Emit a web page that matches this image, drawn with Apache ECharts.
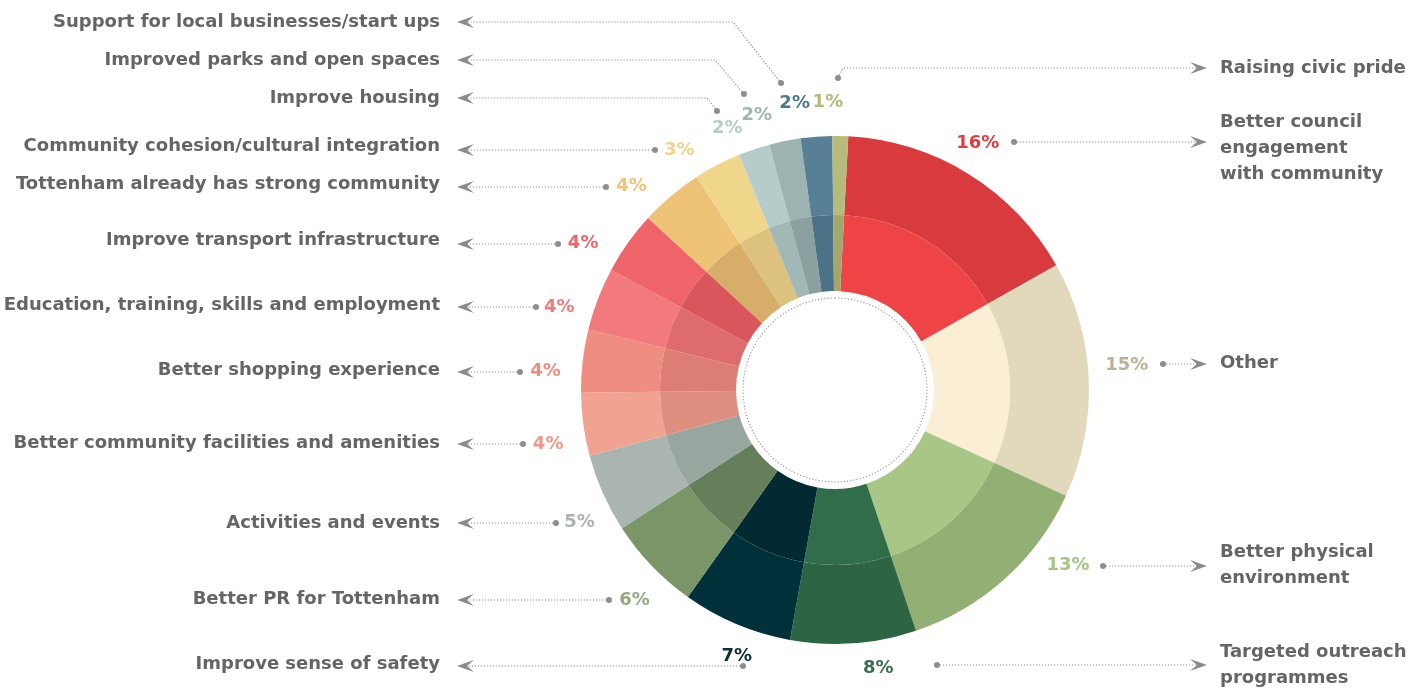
<!DOCTYPE html>
<html>
<head>
<meta charset="utf-8">
<script src="https://cdn.jsdelivr.net/npm/echarts@6/dist/echarts.min.js"></script>
<style>
html,body{margin:0;padding:0;background:#ffffff;}
#main{width:1419px;height:693px;}
</style>
</head>
<body>
<div id="main"></div>
<script>
// ---------------- DATA ----------------
const categories = [
  'Better council\nengagement\nwith community',
  'Other',
  'Better physical\nenvironment',
  'Targeted outreach\nprogrammes',
  'Improve sense of safety',
  'Better PR for Tottenham',
  'Activities and events',
  'Better community facilities and amenities',
  'Better shopping experience',
  'Education, training, skills and employment',
  'Improve transport infrastructure',
  'Tottenham already has strong community',
  'Community cohesion/cultural integration',
  'Improve housing',
  'Improved parks and open spaces',
  'Support for local businesses/start ups',
  'Raising civic pride'
];
const shares = [16, 15, 13, 8, 7, 6, 5, 4, 4, 4, 4, 4, 3, 2, 2, 2, 1];

// ---------------- STYLE ----------------
const outerColors = ['#d93a3d','#e2d9bd','#92b073','#2c6444','#003039','#7a9668','#a9b5ae',
  '#f2a291','#f08d81','#f27a7c','#ee6469','#eec277','#efd68b','#b4cdcb','#9db3b2','#577f96','#b6bb7b'];
const innerColors = ['#ef4446','#faefd5','#a8c686','#326d4b','#022a33','#657f5b','#97a69e',
  '#de8f80','#dc7e74','#de6b6e','#d9575c','#d6ae6a','#dcc27d','#a1b8b6','#8ba19f','#4c7287','#a2a76b'];
const pctColors = ['#e03b3e','#bcb196','#a5c47f','#3a6e4d','#0a3038','#93ab82','#a9b5ae',
  '#f09888','#ef8c80','#ef7c7b','#ee6669','#eec37a','#f1d48a','#b4cdcb','#9fb4b3','#4f7890','#b5b979'];

// ---------------- LAYOUT (annotation placement) ----------------
const CX = 835, CY = 390;
const PCT_R = 290;
const LEFT_X = 440, RIGHT_X = 1220;
// side, leader dot, optional elbow, name y, percentage nudge
const leaders = [
  {side:'R', dot:[1014,142], via:null,       ny:148, nudge:[3,7]},
  {side:'R', dot:[1163,364], via:null,       ny:363, nudge:[3,3]},
  {side:'R', dot:[1103,566], via:null,       ny:565, nudge:[28,-30]},
  {side:'R', dot:[937,665],  via:null,       ny:665, nudge:[7,-9]},
  {side:'L', dot:[743,666],  via:null,       ny:664, nudge:[0,-7]},
  {side:'L', dot:[609,600],  via:null,       ny:599, nudge:[-2,-1]},
  {side:'L', dot:[556,523],  via:null,       ny:523, nudge:[3,1]},
  {side:'L', dot:[523,444],  via:null,       ny:443, nudge:[-2,0]},
  {side:'L', dot:[520,372],  via:null,       ny:370, nudge:[0,0]},
  {side:'L', dot:[536,307],  via:null,       ny:305, nudge:[0,7]},
  {side:'L', dot:[558,244],  via:null,       ny:240, nudge:[-7,9]},
  {side:'L', dot:[606,187],  via:null,       ny:184, nudge:[-5,8]},
  {side:'L', dot:[655,150],  via:null,       ny:146, nudge:[-8,10]},
  {side:'L', dot:[717,111],  via:[707,98],   ny:98,  nudge:[-1,8]},
  {side:'L', dot:[744,94],   via:[715,60],   ny:60,  nudge:[-6,6]},
  {side:'L', dot:[781,83],   via:[733,22],   ny:22,  nudge:[-4,1]},
  {side:'R', dot:[838,78],   via:[843,68],   ny:68,  nudge:[2,2]}
];

const total = shares.reduce((a, b) => a + b, 0);
function midAngle(i) {
  let before = 0;
  for (let k = 0; k < i; k++) before += shares[k];
  return (before + shares[i] / 2) / total * 2 * Math.PI;
}

const LINE_COLOR = '#8e8e8e';
const NAME_FONT = 'bold 18px "DejaVu Sans"';
const PCT_FONT = 'bold 18px "DejaVu Sans"';

function renderAnnotation(params, api) {
  const i = params.dataIndex;
  const L = leaders[i];
  const a = midAngle(i);
  const px = CX + PCT_R * Math.sin(a) + L.nudge[0];
  const py = CY - PCT_R * Math.cos(a) + L.nudge[1];
  const lineY = L.via ? L.via[1] : L.dot[1];
  const pts = [L.dot];
  if (L.via) pts.push(L.via);
  let arrow, endX;
  if (L.side === 'L') {
    endX = 467;
    arrow = [[457, lineY], [474, lineY - 6], [467, lineY], [474, lineY + 6]];
  } else {
    endX = 1197;
    arrow = [[1207, lineY], [1190, lineY - 6], [1197, lineY], [1190, lineY + 6]];
  }
  pts.push([endX, lineY]);
  return {
    type: 'group',
    children: [
      {type: 'polyline', shape: {points: pts},
       style: {stroke: LINE_COLOR, lineWidth: 1.2, lineDash: [1.2, 1.8], fill: null}},
      {type: 'circle', shape: {cx: L.dot[0], cy: L.dot[1], r: 3},
       style: {fill: LINE_COLOR}},
      {type: 'polygon', shape: {points: arrow}, style: {fill: '#8a8a8a'}},
      {type: 'text',
       style: {text: categories[i], x: L.side === 'L' ? LEFT_X : RIGHT_X, y: L.ny,
               align: L.side === 'L' ? 'right' : 'left', verticalAlign: 'middle',
               fill: '#656565', font: NAME_FONT, lineHeight: 26}},
      {type: 'text',
       style: {text: shares[i] + '%', x: px, y: py, align: 'center', verticalAlign: 'middle',
               fill: pctColors[i], font: PCT_FONT}}
    ]
  };
}

const chart = echarts.init(document.getElementById('main'), null, {renderer: 'canvas'});
chart.setOption({
  backgroundColor: '#ffffff',
  animation: false,
  series: [
    {
      type: 'pie', silent: true, center: [CX, CY], radius: [175, 254], startAngle: 87,
      label: {show: false}, labelLine: {show: false},
      data: shares.map((v, i) => ({value: v, name: categories[i], itemStyle: {color: outerColors[i]}}))
    },
    {
      type: 'pie', silent: true, center: [CX, CY], radius: [99, 175], startAngle: 87,
      label: {show: false}, labelLine: {show: false},
      data: shares.map((v, i) => ({value: v, name: categories[i], itemStyle: {color: innerColors[i]}}))
    },
    {
      type: 'pie', silent: true, center: [CX, CY], radius: [0, 92],
      label: {show: false}, labelLine: {show: false},
      data: [{value: 1, itemStyle: {color: 'rgba(0,0,0,0)', borderColor: '#9a9a9a', borderWidth: 1.2, borderType: [1.2, 2]}}]
    },
    {
      type: 'custom', coordinateSystem: 'none', silent: true,
      renderItem: renderAnnotation,
      data: shares
    }
  ]
});
</script>
</body>
</html>
